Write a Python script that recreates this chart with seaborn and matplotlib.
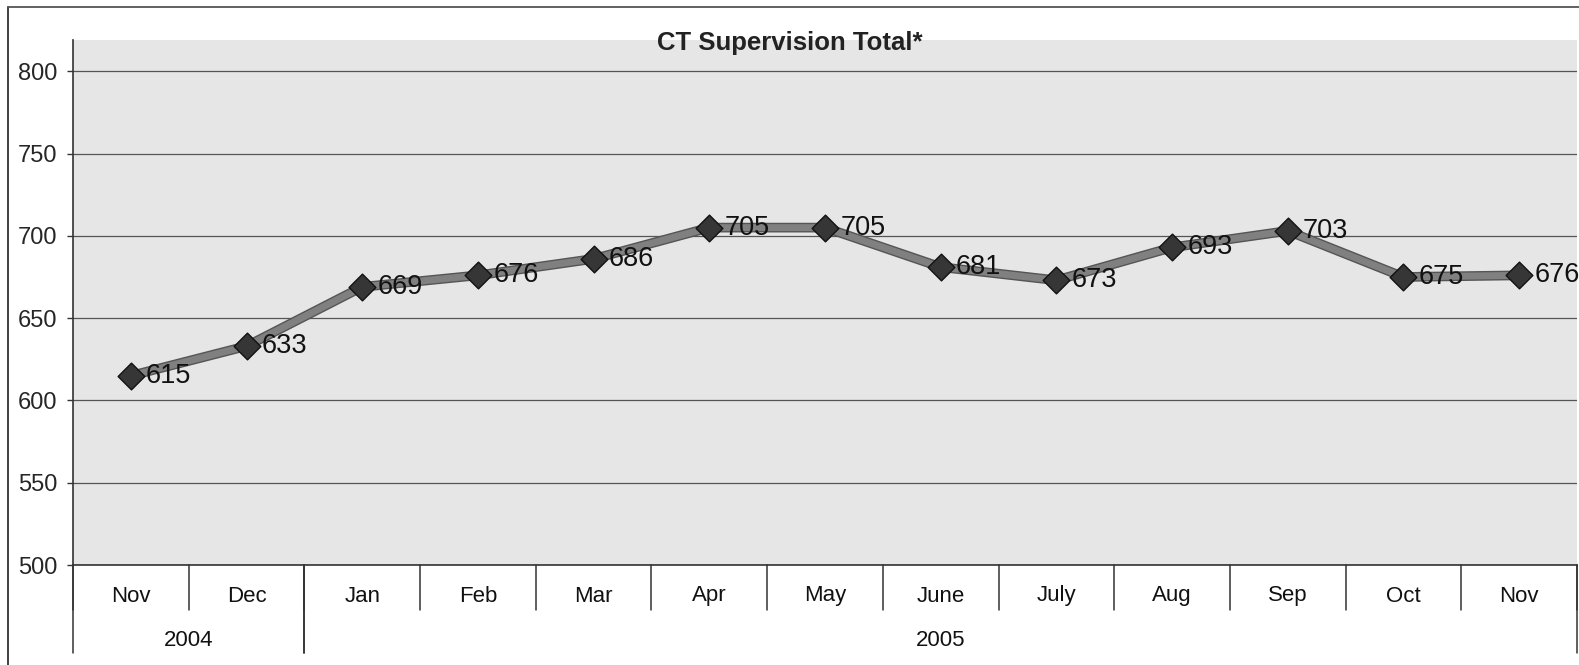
import numpy as np
import pandas as pd
import seaborn as sns
import matplotlib.pyplot as plt
import matplotlib.patheffects as pe
from matplotlib.lines import Line2D

# monthly totals
months = ['Nov', 'Dec', 'Jan', 'Feb', 'Mar', 'Apr', 'May', 'June', 'July', 'Aug', 'Sep', 'Oct', 'Nov']
years = ['2004', '2004', '2005', '2005', '2005', '2005', '2005', '2005', '2005', '2005', '2005', '2005', '2005']
totals = [615, 633, 669, 676, 686, 705, 705, 681, 673, 693, 703, 675, 676]
yticks = [500, 550, 600, 650, 700, 750, 800]

df = pd.DataFrame({'pos': np.arange(len(months)), 'month': months, 'year': years, 'total': totals})

sns.set_theme(style='white')
plt.rcParams['font.family'] = ['Liberation Sans', 'DejaVu Sans']

W, H = 1579, 665
fig = plt.figure(figsize=(W / 100, H / 100), dpi=100)
ax = fig.add_axes([73 / W, 1 - 565 / H, (1577 - 73) / W, (565 - 40) / H])
ax.set_facecolor('#e6e6e6')

sns.lineplot(data=df, x='pos', y='total', ax=ax, color='#808080', linewidth=5,
             zorder=3, path_effects=[pe.Stroke(linewidth=7, foreground='#555555'), pe.Normal()])
sns.scatterplot(data=df, x='pos', y='total', ax=ax, marker='D', s=185, color='#363636',
                edgecolor='#111111', linewidth=1.0, zorder=4)

for x, v in zip(df['pos'], df['total']):
    ax.annotate(str(v), (x, v), xytext=(11, 0), textcoords='offset points',
                ha='left', va='center', fontsize=19.5, color='#111111', zorder=5)

ax.set_xlim(-0.5, len(months) - 0.5)
ax.set_ylim(500, 819)
ax.set_yticks(yticks)
ax.tick_params(axis='y', which='major', direction='out', length=4.5, width=1, color='#333333',
               labelsize=17, pad=7, left=True)
ax.yaxis.grid(True, color='#555555', linewidth=0.9)
ax.set_axisbelow(True)
ax.set_xlabel('')
ax.set_ylabel('')

for s in ['top', 'right']:
    ax.spines[s].set_visible(False)
for s in ['left', 'bottom']:
    ax.spines[s].set_color('#333333')
    ax.spines[s].set_linewidth(1.2)

# two-level category axis
ax.set_xticks([])
tr = ax.get_xaxis_transform()
axh = 565 - 40
m_depth = -(610 - 565) / axh
y_depth = -(653 - 565) / axh
for b in np.arange(-0.5, len(months)):
    ax.plot([b, b], [0, m_depth], transform=tr, color='#333333', lw=1.1, clip_on=False)
for i, m in enumerate(months):
    ax.text(i, -(596 - 565) / axh, m, transform=tr, ha='center', va='center', fontsize=16, color='#111111')

groups = df.groupby('year')['pos'].agg(['min', 'max'])
for yr, row in groups.iterrows():
    lo, hi = row['min'] - 0.5, row['max'] + 0.5
    for b in (lo, hi):
        ax.plot([b, b], [0, y_depth], transform=tr, color='#333333', lw=1.1, clip_on=False)
    ax.text((lo + hi) / 2, -(640 - 565) / axh, yr, transform=tr, ha='center', va='center',
            fontsize=16, color='#111111')

fig.text(0.5, 1 - 50 / H, 'CT Supervision Total*', ha='center', va='baseline',
         fontsize=18.5, fontweight='bold', color='#222222')

# chart frame (left and top edges visible in the scan)
fig.add_artist(Line2D([8 / W, 8 / W], [0, 1 - 7 / H], transform=fig.transFigure, color='#333333', lw=1.3))
fig.add_artist(Line2D([8 / W, 1], [1 - 7 / H, 1 - 7 / H], transform=fig.transFigure, color='#555555', lw=1.3))

fig.savefig('out.png', dpi=100)
